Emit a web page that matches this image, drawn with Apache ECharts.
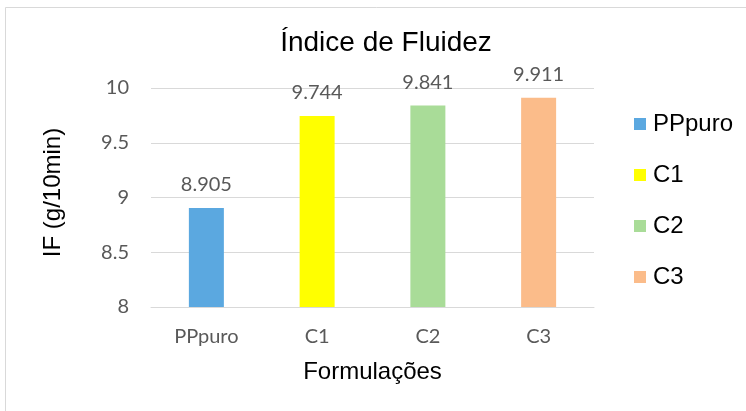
<!DOCTYPE html>
<html>
<head>
<meta charset="utf-8">
<script src="https://cdn.jsdelivr.net/npm/echarts@6/dist/echarts.min.js"></script>
<style>
  html, body { margin: 0; padding: 0; background: #fff; }
  #chart { width: 746px; height: 411px; }
</style>
</head>
<body>
<div id="chart"></div>
<script>
// Melt flow index per formulation
const categories = ['PPpuro', 'C1', 'C2', 'C3'];
const values = [8.905, 9.744, 9.841, 9.911];
const colors = ['#5BA8E0', '#FFFF00', '#A9DC98', '#FBBC8A'];
const yTicks = { min: 8, max: 10, interval: 0.5 };

const labelFont = 'Lato, "Open Sans", sans-serif';
const textFont = '"Liberation Sans", Arial, sans-serif';

// One series per formulation so each gets its own legend entry;
// a shared stack keeps every bar centred on its category.
const series = categories.map((name, i) => ({
  name: name,
  type: 'bar',
  stack: 'all',
  barWidth: 35,
  itemStyle: { color: colors[i] },
  label: {
    show: true,
    position: 'top',
    distance: 13,
    color: '#595959',
    fontSize: 20,
    fontFamily: labelFont,
    formatter: p => p.value.toFixed(3)
  },
  data: categories.map((c, j) => (j === i ? values[i] : '-'))
}));

const chart = echarts.init(document.getElementById('chart'), null, { renderer: 'canvas' });
chart.setOption({
  animation: false,
  backgroundColor: '#fff',
  graphic: [{
    type: 'rect',
    shape: { x: 5.5, y: 7.5, width: 800, height: 500 },
    style: { fill: 'none', stroke: '#D9D9D9', lineWidth: 1 },
    silent: true
  }],
  title: {
    text: 'Índice de Fluidez',
    left: 381,
    top: 24,
    textAlign: 'center',
    textStyle: { fontFamily: textFont, fontSize: 28, fontWeight: 'normal', color: '#000' }
  },
  legend: {
    orient: 'vertical',
    left: 634,
    top: 112,
    padding: 0,
    itemWidth: 12,
    itemHeight: 12,
    itemGap: 27,
    icon: 'rect',
    textStyle: { fontFamily: textFont, fontSize: 24, color: '#000', padding: [0, 0, 0, 2] },
    data: categories
  },
  grid: { left: 151, right: 152, top: 88, bottom: 104 },
  xAxis: {
    type: 'category',
    data: categories,
    name: 'Formulações',
    nameLocation: 'middle',
    nameGap: 53,
    nameTextStyle: { fontFamily: textFont, fontSize: 24, color: '#000' },
    axisLine: { lineStyle: { color: '#D9D9D9', width: 1 } },
    axisTick: { show: false },
    axisLabel: { color: '#595959', fontSize: 20, fontFamily: labelFont, margin: 20 }
  },
  yAxis: {
    type: 'value',
    min: yTicks.min,
    max: yTicks.max,
    interval: yTicks.interval,
    name: 'IF (g/10min)',
    nameLocation: 'middle',
    nameGap: 86,
    nameRotate: 90,
    nameTextStyle: { fontFamily: textFont, fontSize: 24, color: '#000', padding: [0, 0, 0, 10] },
    axisLine: { show: false },
    axisTick: { show: false },
    splitLine: { lineStyle: { color: '#D9D9D9', width: 1 } },
    axisLabel: { color: '#595959', fontSize: 20, fontFamily: labelFont, margin: 22 }
  },
  series: series
});
</script>
</body>
</html>
